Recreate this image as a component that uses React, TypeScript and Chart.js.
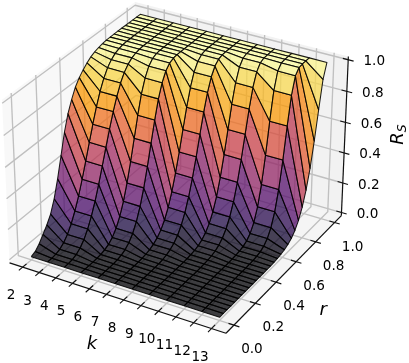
import React, { useEffect, useRef } from "react";
import { Chart, registerables } from "chart.js";

Chart.register(...registerables);

const kValues = [2, 3, 4, 5, 6, 7, 8, 9, 10, 11, 12, 13];
const rValues = [0, 0.0345, 0.069, 0.1034, 0.1379, 0.1724, 0.2069, 0.2414, 0.2759, 0.3103, 0.3448, 0.3793, 0.4138, 0.4483, 0.4828, 0.5172, 0.5517, 0.5862, 0.6207, 0.6552, 0.6897, 0.7241, 0.7586, 0.7931, 0.8276, 0.8621, 0.8966, 0.931, 0.9655, 1];

const rsK2 = [0, 0.012, 0.04, 0.08, 0.12, 0.17, 0.25, 0.36, 0.49, 0.62, 0.72, 0.79, 0.85, 0.89, 0.92, 0.945, 0.965, 0.978, 0.987, 0.993, 0.997, 0.998, 0.999, 1, 1, 1, 1, 1, 1, 1];
const rsK3 = [0, 0.001, 0.005, 0.015, 0.036, 0.069, 0.117, 0.18, 0.257, 0.346, 0.444, 0.545, 0.642, 0.733, 0.812, 0.876, 0.924, 0.957, 0.978, 0.99, 0.996, 0.999, 0.999, 1, 1, 1, 1, 1, 1, 1];
const rsK5 = [0, 0, 0, 0, 0.002, 0.005, 0.012, 0.026, 0.05, 0.088, 0.145, 0.223, 0.323, 0.442, 0.572, 0.7, 0.815, 0.898, 0.954, 0.984, 0.996, 0.999, 1, 1, 1, 1, 1, 1, 1, 1];
const rsK7 = [0, 0, 0, 0, 0, 0, 0.001, 0.003, 0.007, 0.014, 0.027, 0.047, 0.077, 0.122, 0.184, 0.266, 0.368, 0.484, 0.61, 0.733, 0.838, 0.917, 0.966, 0.99, 0.998, 1, 1, 1, 1, 1];
const rsK9 = [0, 0, 0, 0, 0, 0, 0, 0, 0, 0.001, 0.002, 0.005, 0.01, 0.019, 0.035, 0.06, 0.099, 0.155, 0.234, 0.34, 0.468, 0.61, 0.752, 0.87, 0.949, 0.987, 0.998, 1, 1, 1];
const rsK11 = [0, 0, 0, 0, 0, 0, 0, 0, 0, 0, 0, 0, 0, 0.001, 0.003, 0.007, 0.014, 0.029, 0.057, 0.107, 0.19, 0.315, 0.486, 0.685, 0.86, 0.964, 0.996, 1, 1, 1];
const rsK13 = [0, 0, 0, 0, 0, 0, 0, 0, 0, 0, 0, 0, 0, 0.001, 0.001, 0.003, 0.005, 0.01, 0.017, 0.029, 0.048, 0.078, 0.123, 0.188, 0.279, 0.401, 0.558, 0.739, 0.912, 1];
const rsColumns = [rsK2, rsK3, rsK3, rsK5, rsK5, rsK7, rsK7, rsK9, rsK9, rsK11, rsK11, rsK13];

const kTicks = [2, 3, 4, 5, 6, 7, 8, 9, 10, 11, 12, 13];
const rTicks = [0, 0.2, 0.4, 0.6, 0.8, 1];
const zTicks = [0, 0.2, 0.4, 0.6, 0.8, 1];

const infernoStops = [
  [0, 0, 4], [27, 12, 66], [75, 12, 107], [120, 28, 109], [165, 44, 96],
  [207, 68, 70], [237, 105, 37], [251, 154, 6], [247, 208, 60], [252, 255, 164],
];

const K_LIM = [1.198, 13.802];
const R_LIM = [-0.0729, 1.0729];
const Z_LIM = [-0.0208, 1.0208];
const BOX = [1.143, 1.143, 0.857];
const DIST = 10;
const U = [0.866, 0.5, 0];
const V = [-0.25, 0.433, 0.866];
const W = [0.433, -0.75, 0.5];
const SCALE_X = [-0.08221, 0.10627];
const SCALE_Y = [-0.09355, 0.07373];
const FACE_ALPHA = 0.75;

function relative(k: number, r: number, z: number) {
  return [
    ((k - K_LIM[0]) / (K_LIM[1] - K_LIM[0]) - 0.5) * BOX[0],
    ((r - R_LIM[0]) / (R_LIM[1] - R_LIM[0]) - 0.5) * BOX[1],
    ((z - Z_LIM[0]) / (Z_LIM[1] - Z_LIM[0]) - 0.5) * BOX[2],
  ];
}
const dot = (a: number[], b: number[]) => a[0] * b[0] + a[1] * b[1] + a[2] * b[2];
function depth(k: number, r: number, z: number) {
  return dot(W, relative(k, r, z));
}
function project(k: number, r: number, z: number) {
  const p = relative(k, r, z);
  const d = DIST - dot(W, p);
  return { x: dot(U, p) / d, y: dot(V, p) / d };
}

function inferno(t: number) {
  const v = Math.max(0, Math.min(1, t)) * (infernoStops.length - 1);
  const i = Math.min(infernoStops.length - 2, Math.floor(v));
  const f = v - i;
  const c = infernoStops[i].map((s, n) => Math.round(s + (infernoStops[i + 1][n] - s) * f));
  return `rgba(${c[0]},${c[1]},${c[2]},${FACE_ALPHA})`;
}

const polyline = (pts: number[][], color: string, width: number, fill?: string) => ({
  data: pts.map((p) => project(p[0], p[1], p[2])),
  showLine: true,
  borderColor: color,
  borderWidth: width,
  backgroundColor: fill || "transparent",
  fill: fill ? ("shape" as const) : false,
  pointRadius: 0,
  clip: false as const,
  borderJoinStyle: "round" as const,
});

function buildDatasets() {
  const [k0, k1] = K_LIM;
  const [r0, r1] = R_LIM;
  const [z0, z1] = Z_LIM;
  const drawn: any[] = [];
  drawn.push(polyline([[k0, r0, z0], [k0, r1, z0], [k0, r1, z1], [k0, r0, z1], [k0, r0, z0]], "rgba(0,0,0,0)", 0, "rgba(242,242,242,0.5)"));
  drawn.push(polyline([[k0, r1, z0], [k1, r1, z0], [k1, r1, z1], [k0, r1, z1], [k0, r1, z0]], "rgba(0,0,0,0)", 0, "rgba(230,230,230,0.5)"));
  drawn.push(polyline([[k0, r0, z0], [k1, r0, z0], [k1, r1, z0], [k0, r1, z0], [k0, r0, z0]], "rgba(0,0,0,0)", 0, "rgba(236,236,236,0.5)"));

  const gridColor = "#c0c0c0";
  kTicks.forEach((k) => drawn.push(polyline([[k, r0, z0], [k, r1, z0], [k, r1, z1]], gridColor, 1.35)));
  rTicks.forEach((r) => drawn.push(polyline([[k1, r, z0], [k0, r, z0], [k0, r, z1]], gridColor, 1.35)));
  zTicks.forEach((z) => drawn.push(polyline([[k0, r0, z], [k0, r1, z], [k1, r1, z]], gridColor, 1.35)));

  drawn.push(polyline([[k0, r0, z0], [k1, r0, z0]], "#111", 1.2));
  drawn.push(polyline([[k1, r0, z0], [k1, r1, z0]], "#111", 1.2));
  drawn.push(polyline([[k1, r1, z0], [k1, r1, z1]], "#111", 1.2));
  const kTickLen = 0.028 * (r1 - r0);
  const rTickLen = 0.024 * (k1 - k0);
  const zTickLen = 0.024 * (k1 - k0);
  kTicks.forEach((k) => drawn.push(polyline([[k, r0 - kTickLen, z0], [k, r0 + kTickLen, z0]], "#111", 1.1)));
  rTicks.forEach((r) => drawn.push(polyline([[k1 + rTickLen, r, z0], [k1 - rTickLen, r, z0]], "#111", 1.1)));
  zTicks.forEach((z) => drawn.push(polyline([[k1 + zTickLen, r1, z], [k1 - zTickLen, r1, z]], "#111", 1.1)));

  const quads: { d: number; set: any }[] = [];
  for (let i = 0; i < kValues.length - 1; i++) {
    for (let j = 0; j < rValues.length - 1; j++) {
      const a = [kValues[i], rValues[j], rsColumns[i][j]];
      const b = [kValues[i + 1], rValues[j], rsColumns[i + 1][j]];
      const c = [kValues[i + 1], rValues[j + 1], rsColumns[i + 1][j + 1]];
      const e = [kValues[i], rValues[j + 1], rsColumns[i][j + 1]];
      const corners = [a, b, c, e];
      const meanZ = corners.reduce((s, p) => s + p[2], 0) / 4;
      const d = corners.reduce((s, p) => s + depth(p[0], p[1], p[2]), 0) / 4;
      quads.push({ d, set: polyline([a, b, c, e, a], "rgba(0,0,0,0.88)", 1.05, inferno(meanZ)) });
    }
  }
  quads.sort((p, q) => p.d - q.d);
  quads.forEach((q) => drawn.push(q.set));
  return drawn.reverse();
}

const labelsPlugin = {
  id: "axisText",
  afterDraw(chart: any) {
    const { ctx, scales } = chart;
    const px = (k: number, r: number, z: number) => {
      const p = project(k, r, z);
      return [scales.x.getPixelForValue(p.x), scales.y.getPixelForValue(p.y)];
    };
    ctx.save();
    ctx.fillStyle = "#000";
    ctx.textAlign = "center";
    ctx.textBaseline = "middle";
    ctx.font = "13.6px 'DejaVu Sans'";
    kTicks.forEach((k) => {
      const [x, y] = px(k, R_LIM[0], Z_LIM[0]);
      ctx.fillText(String(k), x - 11.5, y + 28.5);
    });
    rTicks.forEach((r) => {
      const [x, y] = px(K_LIM[1], r, Z_LIM[0]);
      ctx.fillText(r.toFixed(1), x + 18, y + 24.5);
    });
    zTicks.forEach((z) => {
      const [x, y] = px(K_LIM[1], R_LIM[1], z);
      ctx.fillText(z.toFixed(1), x + 26, y + 2);
    });
    ctx.font = "italic 18px 'DejaVu Sans'";
    const kMid = px((K_LIM[0] + K_LIM[1]) / 2, R_LIM[0], Z_LIM[0]);
    ctx.fillText("k", kMid[0] - 23, kMid[1] + 47);
    const rMid = px(K_LIM[1], (R_LIM[0] + R_LIM[1]) / 2, Z_LIM[0]);
    ctx.fillText("r", rMid[0] + 37, rMid[1] + 38);
    const zMid = px(K_LIM[1], R_LIM[1], (Z_LIM[0] + Z_LIM[1]) / 2);
    ctx.translate(zMid[0] + 54, zMid[1] - 3);
    ctx.rotate(-Math.PI / 2);
    ctx.textAlign = "left";
    ctx.fillText("R", -10, 0);
    ctx.font = "italic 12.5px 'DejaVu Sans'";
    ctx.fillText("S", 2.5, 4);
    ctx.restore();
  },
};

export default function App() {
  const ref = useRef<HTMLCanvasElement>(null);
  useEffect(() => {
    const chart = new Chart(ref.current as HTMLCanvasElement, {
      type: "scatter",
      data: { datasets: buildDatasets() },
      options: {
        animation: false,
        responsive: false,
        events: [],
        layout: { padding: 0 },
        plugins: { legend: { display: false }, tooltip: { enabled: false } },
        scales: {
          x: { type: "linear", display: false, min: SCALE_X[0], max: SCALE_X[1] },
          y: { type: "linear", display: false, min: SCALE_Y[0], max: SCALE_Y[1] },
        },
      },
      plugins: [labelsPlugin],
    } as any);
    return () => chart.destroy();
  }, []);
  return (
    <div style={{ position: "absolute", left: 0, top: 0, width: 409, height: 363, background: "#fff" }}>
      <canvas ref={ref} width={409} height={363} style={{ display: "block" }} />
    </div>
  );
}
